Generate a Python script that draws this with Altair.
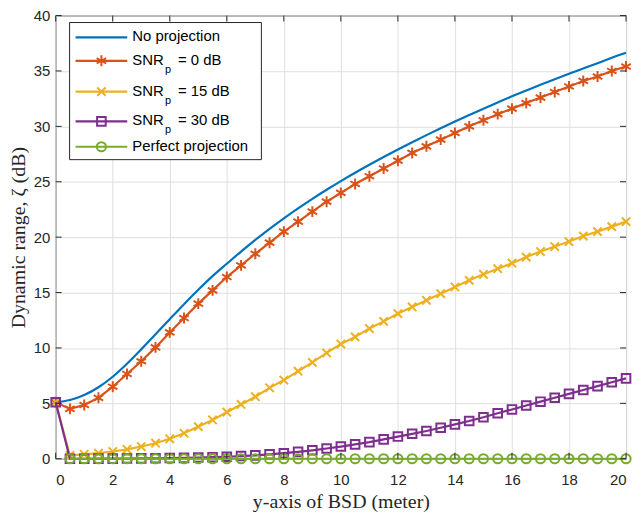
import altair as alt
import pandas as pd

# sample positions along the y-axis of the BSD (meter)
x_m = [0, 0.5, 1, 1.5, 2, 2.5, 3, 3.5, 4, 4.5, 5, 5.5, 6, 6.5, 7, 7.5, 8, 8.5, 9, 9.5,
       10, 10.5, 11, 11.5, 12, 12.5, 13, 13.5, 14, 14.5, 15, 15.5, 16, 16.5, 17, 17.5,
       18, 18.5, 19, 19.5, 20]

# dynamic range (dB)
no_projection = [5.1, 5.3, 5.75, 6.45, 7.4, 8.57, 9.87, 11.23, 12.6, 13.95, 15.25, 16.48,
                 17.6, 18.7, 19.75, 20.75, 21.7, 22.6, 23.46, 24.28, 25.06, 25.81, 26.53,
                 27.23, 27.91, 28.57, 29.21, 29.83, 30.43, 31.02, 31.6, 32.16, 32.71,
                 33.24, 33.76, 34.26, 34.75, 35.23, 35.7, 36.2, 36.65]
snr_0db = [5.1, 4.5, 4.85, 5.5, 6.5, 7.65, 8.8, 10.05, 11.4, 12.7, 14.0, 15.2, 16.4, 17.45,
           18.5, 19.5, 20.5, 21.4, 22.3, 23.2, 24.0, 24.8, 25.5, 26.2, 26.9, 27.6, 28.2,
           28.8, 29.4, 30.0, 30.55, 31.1, 31.6, 32.1, 32.6, 33.1, 33.6, 34.1, 34.5, 35.0, 35.4]
snr_15db = [5.1, 0.3, 0.4, 0.5, 0.65, 0.85, 1.1, 1.4, 1.8, 2.3, 2.9, 3.5, 4.2, 4.9, 5.6,
            6.4, 7.1, 7.9, 8.7, 9.55, 10.35, 11.0, 11.75, 12.4, 13.1, 13.7, 14.3, 14.9,
            15.5, 16.1, 16.65, 17.15, 17.65, 18.2, 18.7, 19.15, 19.6, 20.1, 20.5, 20.95, 21.4]
snr_30db = [5.1, 0.0, 0.0, 0.01, 0.01, 0.02, 0.03, 0.04, 0.06, 0.08, 0.11, 0.14, 0.18,
            0.24, 0.3, 0.4, 0.5, 0.62, 0.76, 0.92, 1.1, 1.3, 1.5, 1.75, 2.0, 2.25, 2.5,
            2.8, 3.1, 3.4, 3.75, 4.1, 4.45, 4.8, 5.15, 5.5, 5.85, 6.2, 6.55, 6.9, 7.25]
perfect = [0, 0, 0, 0, 0, 0, 0, 0, 0, 0, 0, 0, 0, 0, 0, 0, 0, 0, 0, 0,
           0, 0, 0, 0, 0, 0, 0, 0, 0, 0, 0, 0, 0, 0, 0, 0, 0, 0, 0, 0]

x_ticks = [0, 2, 4, 6, 8, 10, 12, 14, 16, 18, 20]
y_ticks = [0, 5, 10, 15, 20, 25, 30, 35, 40]

W, H = 574, 446
INK = '#262626'
GRID = '#dfdfdf'

star = 'M0,-1L0,1M-0.87,-0.5L0.87,0.5M-0.87,0.5L0.87,-0.5'
cross = 'M-1,-1L1,1M-1,1L1,-1'

# name, x, values, colour, marker, marker size
series = [
    ('No projection', x_m, no_projection, '#0072BD', None, 0),
    ('SNR_0', x_m, snr_0db, '#D95319', star, 120),
    ('SNR_15', x_m, snr_15db, '#EDB120', cross, 70),
    ('SNR_30', x_m, snr_30db, '#7E2F8E', 'square', 75),
    ('Perfect projection', x_m[1:], perfect, '#77AC30', 'circle', 85),
]

x_scale = alt.Scale(domain=[0, 20], nice=False, zero=False)
y_scale = alt.Scale(domain=[0, 40], nice=False)

x_axis = alt.Axis(values=x_ticks, title='y-axis of BSD (meter)', grid=True, gridColor=GRID,
                  domain=False, ticks=False, tickSize=0, labelFont='Liberation Sans',
                  labelFontSize=15, labelColor=INK, labelPadding=14,
                  titleFont='Liberation Serif', titleFontSize=20, titleFontWeight='normal',
                  titleColor=INK, titleY=43, titleBaseline='middle')
y_axis = alt.Axis(values=y_ticks, title='Dynamic range, ζ (dB)', grid=True, gridColor=GRID,
                  domain=False, ticks=False, tickSize=0, labelFont='Liberation Sans',
                  labelFontSize=15, labelColor=INK, labelPadding=6,
                  titleFont='Liberation Serif', titleFontSize=20, titleFontWeight='normal',
                  titleColor=INK, titleX=-37, titleY=H / 2, titleAngle=270,
                  titleBaseline='middle')

layers = []
for name, xs, vals, color, shape, size in series:
    df = pd.DataFrame({'x': xs, 'y': vals})
    base = alt.Chart(df).encode(
        x=alt.X('x:Q', scale=x_scale, axis=x_axis),
        y=alt.Y('y:Q', scale=y_scale, axis=y_axis),
    )
    interp = 'monotone' if shape is None else 'linear'
    layers.append(base.mark_line(color=color, strokeWidth=2.2, interpolate=interp))
    if shape:
        layers.append(base.mark_point(shape=shape, color=color, size=size,
                                      strokeWidth=2, filled=False, opacity=1))

# inward tick marks on all four sides of the box
yt = alt.Chart(pd.DataFrame({'y': y_ticks}))
xt = alt.Chart(pd.DataFrame({'x': x_ticks}))
for a, b in [(0, 6), (W - 6, W)]:
    layers.append(yt.mark_rule(color=INK, strokeWidth=1).encode(
        y=alt.Y('y:Q', scale=y_scale, axis=y_axis), x=alt.value(a), x2=alt.value(b)))
for a, b in [(H - 6, H), (0, 6)]:
    layers.append(xt.mark_rule(color=INK, strokeWidth=1).encode(
        x=alt.X('x:Q', scale=x_scale, axis=x_axis), y=alt.value(a), y2=alt.value(b)))

# legend box
one = alt.Chart(pd.DataFrame({'a': [0]}))
layers.append(one.mark_rect(fill='white', stroke=INK, strokeWidth=1).encode(
    x=alt.value(14), x2=alt.value(207), y=alt.value(7), y2=alt.value(145)))

legend_rows = [22, 45.5, 76.5, 106.5, 132]
legend_text = [('No projection', None, None), ('SNR', 'p', '= 0 dB'),
               ('SNR', 'p', '= 15 dB'), ('SNR', 'p', '= 30 dB'),
               ('Perfect projection', None, None)]
for (name, xs, vals, color, shape, size), ly, (t1, sub, t2) in zip(series, legend_rows, legend_text):
    layers.append(one.mark_rule(color=color, strokeWidth=2.2).encode(
        x=alt.value(20), x2=alt.value(72), y=alt.value(ly)))
    if shape:
        layers.append(one.mark_point(shape=shape, color=color, size=size, strokeWidth=2,
                                     filled=False, opacity=1).encode(
            x=alt.value(46), y=alt.value(ly)))
    txt = dict(align='left', baseline='middle', font='Liberation Sans', color='black')
    layers.append(one.mark_text(text=t1, fontSize=15, **txt).encode(
        x=alt.value(77), y=alt.value(ly - 1)))
    if sub:
        layers.append(one.mark_text(text=sub, fontSize=11, **txt).encode(
            x=alt.value(110), y=alt.value(ly + 9)))
        layers.append(one.mark_text(text=t2, fontSize=15, **txt).encode(
            x=alt.value(123), y=alt.value(ly - 1)))

chart = alt.layer(*layers).properties(
    width=W, height=H,
    autosize=alt.AutoSizeParams(type='none'),
    padding={'left': 48, 'top': 6, 'right': 6, 'bottom': 54},
).configure_view(stroke=INK, strokeWidth=1)

chart.save('out.html', embed_options={'renderer': 'svg', 'actions': False})
